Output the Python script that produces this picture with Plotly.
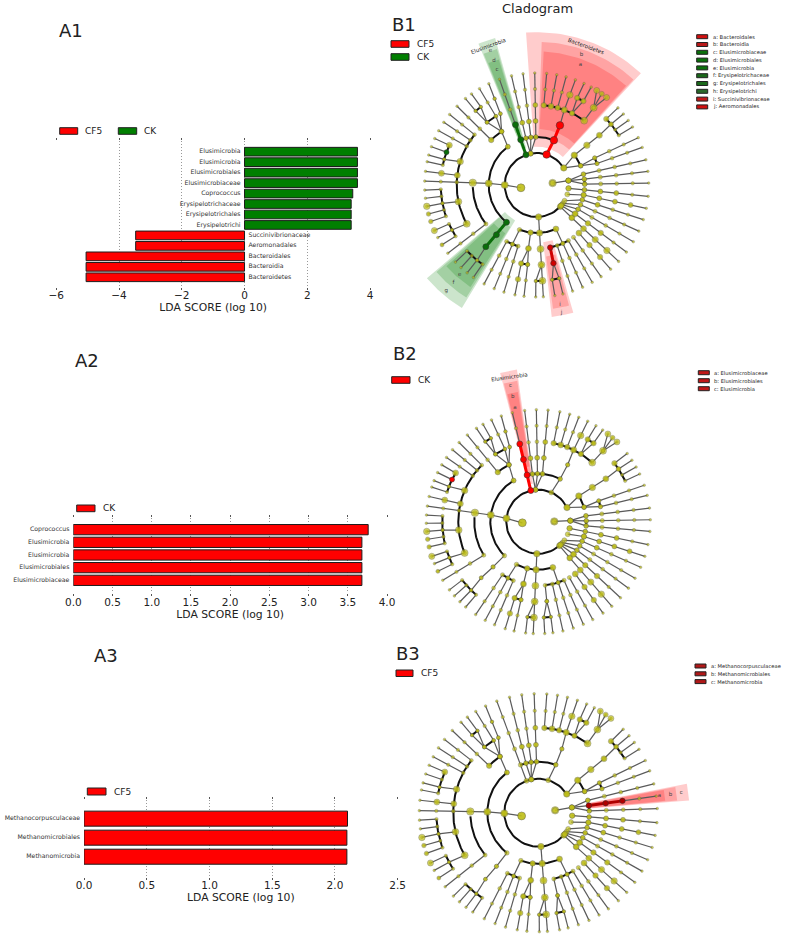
import numpy as np
import plotly.graph_objects as go

W, H = 787, 937
FONT = "DejaVu Sans"
RED, GREEN, OLIVE = "#ff0000", "#007f00", "#bfbf18"

# ---- LDA bar data ----
A1_NAMES = ["Bacteroidetes", "Bacteroidia", "Bacteroidales", "Aeromonadales", "Succinivibrionaceae",
            "Erysipelotrichi", "Erysipelotrichales", "Erysipelotrichaceae", "Coprococcus",
            "Elusimicrobiaceae", "Elusimicrobiales", "Elusimicrobia", "Elusimicrobia"]
A1_VALUES = [-5.05, -5.05, -5.05, -3.47, -3.47, 3.40, 3.40, 3.40, 3.45, 3.60, 3.60, 3.60, 3.60]
A2_NAMES = ["Elusimicrobiaceae", "Elusimicrobiales", "Elusimicrobia", "Elusimicrobia", "Coprococcus"]
A2_VALUES = [3.68, 3.68, 3.68, 3.68, 3.76]
A3_NAMES = ["Methanomicrobia", "Methanomicrobiales", "Methanocorpusculaceae"]
A3_VALUES = [2.095, 2.095, 2.10]

# ---- Cladogram: taxonomy (angle in degrees, ring level) ----
SPOKES = [(-5.8, 3, 7), (-12, 3, 7), (-18, 3, 7), (-24.3, 3, 7), (-30.4, 3, 7), (-36.8, 3, 7), (-43, 3, 7),
          (-48.7, 4, 7), (-54.9, 4, 7), (-60.3, 4, 7), (-65.8, 4, 7), (-71.3, 4, 7),
          (-80.7, 6, 7), (-76.5, 6, 7), (-86.6, 2, 5), (-86.6, 6, 7), (269.5, 6, 7),
          (13, 3, 7), (7, 3, 7), (1, 3, 7), (25, 4, 7), (19.6, 4, 7), (38.4, 3, 5),
          (43.5, 6, 7), (39.3, 6, 7), (35.2, 6, 7), (31.2, 6, 7),
          (84.9, 5, 7), (79.7, 5, 7), (74.8, 5, 7), (69.8, 5, 7), (65, 6, 7), (60.9, 6, 7), (53.6, 5, 6),
          (91, 3, 7), (97, 3, 7), (103, 3, 7), (109.4, 2, 7),
          (135.3, 4, 7), (120.7, 5, 7), (125.6, 6, 7), (129.5, 6, 7),
          (141, 5, 7), (146, 5, 7), (151, 5, 7), (173, 5, 7), (178, 3, 7),
          (155.5, 6, 7), (160, 6, 7), (164.5, 6, 7), (168, 6, 7),
          (212.3, 6, 7), (208, 6, 7), (204, 6, 7), (199, 6, 7), (195, 6, 7), (191, 6, 7), (186.8, 6, 7), (182.6, 6, 7),
          (217.5, 4, 7), (242, 4, 7), (247.7, 4, 7), (253, 4, 7), (258.8, 5, 7), (263.5, 5, 7),
          (223.5, 6, 7), (227.5, 6, 7), (231.6, 6, 7), (235.6, 6, 7)]
FANS = [(190, 1, 180, 2), (7, 1, 7.9, 2), (7.9, 2, 13, 3), (7.9, 2, 7, 3), (7.9, 2, 1, 3),
        (-6, 2, -5.8, 3), (-17, 2, -12, 3), (-29.5, 2, -18, 3), (-35, 2, -24.3, 3), (-38, 2, -30.4, 3),
        (-40, 2, -36.8, 3), (-42.5, 2, -43, 3),
        (-86.6, 5, -90.5, 6), (-86.6, 5, -86.6, 6), (-66.4, 3, -66, 4),
        (-77.8, 4, -77.9, 5), (-77.9, 5, -80.7, 6), (-77.9, 5, -76.5, 6),
        (32.3, 2, 38.4, 3), (32.3, 2, 23.7, 3), (23.7, 3, 25, 4), (23.7, 3, 19.6, 4), (38.4, 5, 39.3, 6),
        (72, 2, 69, 3), (69, 3, 68.7, 4), (68.7, 4, 69.8, 5), (63.8, 5, 65, 6), (63.8, 5, 60.9, 6),
        (53.6, 6, 57.6, 7), (53.6, 6, 54.5, 7), (53.6, 6, 51.4, 7),
        (101, 2, 103, 3), (101, 2, 97, 3), (101, 2, 91, 3),
        (127, 3, 123.3, 4), (123.3, 4, 120.7, 5), (123.3, 4, 117, 5), (123.3, 4, 128.4, 5),
        (128.4, 5, 125.6, 6), (128.4, 5, 129.5, 6), (117, 5, 116, 6), (116, 6, 115.3, 7),
        (163, 5, 164.5, 6), (192, 5, 191, 6), (209, 5, 208, 6),
        (231, 3, 231, 4), (231, 4, 230.5, 5), (230.5, 5, 231.6, 6),
        (249, 3, 247.7, 4), (262.6, 3, 262.6, 4), (262.6, 4, 258.8, 5), (262.6, 4, 263.5, 5),
        (180, 2, 178, 3)]
ARCS = [(2, 32.3, 317.5), (3, 127, 231), (3, 69, 109.4), (3, 249, 293.6), (3, 23.7, 38.4), (3, 1, 7),
        (4, 182, 217.5), (4, -77.8, -60.3), (4, 242, 253), (4, 123.3, 135.3), (4, 19.6, 25),
        (5, 53.6, 84.9), (5, 141, 209), (5, 258.8, 263.5), (5, 120.7, 128.4),
        (6, 31.2, 43.5), (6, 223.5, 235.6), (6, -80.7, -76.5), (6, 269.5, 273.4), (6, 204, 212.3), (6, 182.6, 199),
        (6, 155.5, 168), (6, 125.6, 129.5), (6, 60.9, 65)]
LEVEL_SIZE = {1: 7.5, 2: 5, 3: 4.6, 4: 4.2, 5: 3.8, 6: 3.4, 7: 2.6}

# larger nodes: abundance (angle, level, diameter)
BIG = [(190, 1, 8), (180, 2, 7.2), (178, 3, 7.2), (178, 4, 7.5), (192, 5, 6.8), (209, 5, 7), (163, 5, 6.5), (173, 5, 6),
       (173, 6, 6), (155.5, 6, 6), (191, 7, 6.5), (204, 7, 6.2), (195, 7, 4.5), (199, 7, 4.5), (212.3, 7, 4),
       (-86.6, 2, 6.5), (-86.6, 3, 6.5), (-86.6, 4, 7), (-86.6, 5, 7), (-86.6, 6, 7),
       (262.6, 3, 5.5), (262.6, 4, 6), (258.8, 5, 5.5), (263.5, 5, 4.5), (258.8, 6, 5.5),
       (53.6, 5, 7), (53.6, 6, 7), (57.6, 7, 6), (54.5, 7, 5), (51.4, 7, 6),
       (84.9, 5, 5.5), (79.7, 5, 6), (74.8, 5, 5.5), (69.8, 5, 6.3), (63.8, 5, 5.5), (69.8, 6, 6.5), (65, 6, 5.5),
       (60.9, 6, 5.5), (32.3, 2, 6.5), (38.4, 3, 6.5), (38.4, 4, 6.5), (38.4, 5, 6), (39.3, 6, 5), (43.5, 6, 5.5),
       (-43, 3, 6), (-43, 4, 6), (-43, 5, 6.3), (-43, 6, 6.5), (-36.8, 3, 6), (-36.8, 4, 5.5), (-36.8, 5, 5.5),
       (-48.7, 4, 6), (-48.7, 5, 5.5), (-48.7, 6, 5.5), (-12, 3, 5.5), (-12, 4, 5), (-12, 5, 5), (-12, 6, 5),
       (-18, 4, 5), (-5.8, 4, 5), (-5.8, 5, 5), (-6, 2, 5.5), (7.9, 2, 5.5), (7, 1, 5.5), (-42.5, 2, 6),
       (-40, 2, 5.5), (-66.4, 3, 6), (135.3, 4, 5.5), (123.3, 4, 5), (127, 3, 5), (91, 4, 5), (91, 5, 5),
       (97, 4, 5), (103, 4, 5)]

# ---- Highlights: (taxon wedge) theta range, ring range ----
B1_WEDGE_COLOR = [RED, RED, RED, GREEN, GREEN, GREEN, GREEN, GREEN, GREEN, RED, RED]
B1_WEDGE_T0 = [47, 47.5, 48, 105.8, 106.3, 106.8, 220.3, 221, 222, -83.5, -82.5]
B1_WEDGE_T1 = [94, 88, 87, 112.4, 112, 111.6, 238.7, 238, 237, -74, -75]
B1_WEDGE_R0 = [2.4, 3, 3.5, 2.4, 3, 3.5, 2.6, 3.1, 3.6, 3.6, 4.5]
B1_WEDGE_R1 = [9.55, 8.95, 8.35, 9.55, 8.85, 8.2, 9.0, 8.3, 7.6, 8.3, 7.8]
B2_WEDGE_T0 = [104, 104.5, 105]
B2_WEDGE_T1 = [110.4, 110, 109.6]
B2_WEDGE_R0 = [2.4, 3, 3.5]
B2_WEDGE_R1 = [9.6, 8.9, 8.2]
B3_WEDGE_T0 = [3.6, 4, 4.4]
B3_WEDGE_T1 = [10, 9.6, 9.2]
B3_WEDGE_R0 = [3, 3, 3]
B3_WEDGE_R1 = [8.9, 8.2, 7.5]

B1_HL_T = [[72, 69, 68.7], [109.6, 109.5, 109.4], [231, 231, 230.5], [160], [-77.8, -77.9]]
B1_HL_L = [[2, 3, 4], [2, 3, 4], [3, 4, 5], [6], [4, 5]]
B1_HL_C = [RED, "#0a6e0a", "#0a6e0a", "#0a6e0a", "#d00000"]
B1_HL_S = [7.5, 6, 6, 5, 5.5]
B2_HL_T = [[109.6, 109.5, 109.4, 109.4], [160]]
B2_HL_L = [[2, 3, 4, 5], [6]]
B2_HL_C = [RED, RED]
B2_HL_S = [6, 5]
B3_HL_T = [[7, 7, 7]]
B3_HL_L = [[3, 4, 5]]
B3_HL_C = ["#b00000"]
B3_HL_S = [5.5]

B1_KEY = ["a: Bacteroidales", "b: Bacteroidia", "c: Elusimicrobiaceae", "d: Elusimicrobiales", "e: Elusimicrobia",
          "f: Erysipelotrichaceae", "g: Erysipelotrichales", "h: Erysipelotrichi", "i: Succinivibrionaceae",
          "j: Aeromonadales"]
B1_KEY_C = ["#d01010", "#b81818", "#0a700a", "#0a700a", "#0a700a", "#1a681a", "#1a681a", "#2a682a", "#c01818", "#d01010"]
B2_KEY = ["a: Elusimicrobiaceae", "b: Elusimicrobiales", "c: Elusimicrobia"]
B3_KEY = ["a: Methanocorpusculaceae", "b: Methanomicrobiales", "c: Methanomicrobia"]

fig = go.Figure()
shapes, notes = [], []


def px(x):
    return x / W


def py(y):
    return 1 - y / H


def txt(x, y, s, size, anchor="left", angle=0, color="#222"):
    notes.append(dict(x=px(x), y=py(y), xref="paper", yref="paper", text=s, showarrow=False,
                      xanchor=anchor, yanchor="middle", textangle=angle, borderpad=0,
                      font=dict(family=FONT, size=size, color=color)))


def swatch(x0, x1, y0, y1, color):
    shapes.append(dict(type="rect", xref="paper", yref="paper", x0=px(x0), x1=px(x1),
                       y0=py(y0), y1=py(y1), fillcolor=color, line=dict(color="#222", width=1)))


def bar_panel(idx, names, values, colors, xdom, ydom, xr, yr, barw, dtick, fmt, side_labels):
    xa, ya = f"x{idx}", f"y{idx}"
    ypos = list(range(len(names)))
    fig.add_trace(go.Bar(x=values, y=ypos, orientation="h", width=barw, marker=dict(color=colors,
                         line=dict(color="#1c1c1c", width=1)), xaxis=xa, yaxis=ya, showlegend=False))
    if side_labels:
        pos = ["middle left" if v > 0 else "middle right" for v in values]
    else:
        pos = ["middle left"] * len(values)
    shown = [(n + "\u00a0\u00a0") if p == "middle left" else ("\u00a0\u00a0" + n) for n, p in zip(names, pos)]
    fig.add_trace(go.Scatter(x=[0] * len(names), y=ypos, mode="text", text=shown, textposition=pos,
                             textfont=dict(family=FONT, size=6.2, color="#333"), cliponaxis=False,
                             xaxis=xa, yaxis=ya, showlegend=False))
    suffix = "" if idx == 1 else str(idx)
    fig.update_layout({
        f"xaxis{suffix}": dict(domain=[px(xdom[0]), px(xdom[1])], range=xr, dtick=dtick, tickformat=fmt, anchor=ya,
                               showline=False, showgrid=True, griddash="1px,2px", gridcolor="#999", gridwidth=1,
                               zeroline=False, ticks="outside", ticklen=2, tickcolor="#555", mirror="ticks",
                               ticklabelstandoff=-3,
                               tickfont=dict(family=FONT, size=10.5, color="#222"),
                               title=dict(text="LDA SCORE (log 10)", standoff=0,
                                          font=dict(family=FONT, size=10.8, color="#222"))),
        f"yaxis{suffix}": dict(domain=[py(ydom[1]), py(ydom[0])], range=yr, anchor=xa, visible=False),
    })


bar_panel(1, A1_NAMES, A1_VALUES, [RED if v < 0 else GREEN for v in A1_VALUES], (56.3, 370), (140.7, 286.7),
          [-6, 4], [-0.9, 13.05], 0.83, 2, "d", True)
bar_panel(2, A2_NAMES, A2_VALUES, [RED] * 5, (73.3, 387), (518, 593), [0, 4], [-1, 4.92], 0.81, 0.5, ".1f", False)
bar_panel(3, A3_NAMES, A3_VALUES, [RED] * 3, (84, 397.7), (800, 876.7), [0, 2.5], [-1.05, 2.98], 0.79, 0.5, ".1f", False)


def clado(idx, cx, cy, unit, rot, top, bottom, wedges, hl_t, hl_l, hl_c, hl_s, letters):
    left, right = 380, 787
    xa, ya = f"x{idx}", f"y{idx}"
    fig.update_layout({
        f"xaxis{idx}": dict(domain=[px(left), px(right)], range=[(left - cx) / unit, (right - cx) / unit],
                            visible=False, anchor=ya),
        f"yaxis{idx}": dict(domain=[py(bottom), py(top)], range=[(cy - bottom) / unit, (cy - top) / unit],
                            visible=False, anchor=xa),
    })

    def xy(theta, level):
        a = np.radians(np.asarray(theta, dtype=float) + rot)
        lv = np.asarray(level, dtype=float)
        return (lv * np.cos(a)).tolist(), (lv * np.sin(a)).tolist()

    common = dict(xaxis=xa, yaxis=ya, showlegend=False, hoverinfo="skip")
    # wedges: annular sectors
    for c, t0, t1, r0, r1 in wedges:
        th = np.linspace(t0, t1, 30)
        wx, wy = xy(np.r_[th, th[::-1]], np.r_[[r1] * 30, [r0] * 30])
        rgb = "255,0,0" if c == RED else "0,127,0"
        fig.add_trace(go.Scatter(x=wx, y=wy, mode="lines", fill="toself", fillcolor=f"rgba({rgb},0.2)",
                                 line=dict(width=0), **common))
    # thin grey branches
    lx, ly = [], []
    for t, a, b in SPOKES:
        sx, sy = xy([t, t], [a, b])
        lx += sx + [None]
        ly += sy + [None]
    for t0, l0, t1, l1 in FANS:
        sx, sy = xy([t0, t1], [l0, l1])
        lx += sx + [None]
        ly += sy + [None]
    fig.add_trace(go.Scatter(x=lx, y=ly, mode="lines", line=dict(color="#5a5a5a", width=1.2), **common))
    # thick black arcs
    ax, ay = [], []
    for lv, a, b in ARCS:
        sx, sy = xy(np.linspace(a, b, 60), [lv] * 60)
        ax += sx + [None]
        ay += sy + [None]
    fig.add_trace(go.Scatter(x=ax, y=ay, mode="lines", line=dict(color="#111", width=2), **common))
    # nodes
    nr, nt = [], []
    for t, a, b in SPOKES:
        for lv in range(a, b + 1):
            nr.append(lv)
            nt.append(t)
    for t0, l0, t1, l1 in FANS:
        nr += [l0, l1]
        nt += [t0, t1]
    sizes = [LEVEL_SIZE[v] for v in nr]
    nx, ny = xy(nt, nr)
    fig.add_trace(go.Scatter(x=nx, y=ny, mode="markers", cliponaxis=False,
                             marker=dict(color=OLIVE, size=sizes, line=dict(color="#444", width=0.4)), **common))
    bx, by = xy([b[0] for b in BIG], [b[1] for b in BIG])
    fig.add_trace(go.Scatter(x=bx, y=by, mode="markers", cliponaxis=False,
                             marker=dict(color=OLIVE, size=[b[2] for b in BIG], line=dict(color="#444", width=0.4)),
                             **common))
    # highlighted clades
    for t, l, c, s in zip(hl_t, hl_l, hl_c, hl_s):
        hx, hy = xy(t, l)
        fig.add_trace(go.Scatter(x=hx, y=hy, mode="lines+markers", line=dict(color=c, width=3),
                                 marker=dict(color=c, size=s, line=dict(color="#333", width=0.5)), **common))
    if letters:
        tx, ty = xy([x[0] for x in letters], [x[1] for x in letters])
        fig.add_trace(go.Scatter(x=tx, y=ty, text=[x[2] for x in letters], mode="text",
                                 textfont=dict(family=FONT, size=5.5, color="#444"), **common))


clado(4, 536.7, 185, 16, 0, 15, 330,
      list(zip(B1_WEDGE_COLOR, B1_WEDGE_T0, B1_WEDGE_T1, B1_WEDGE_R0, B1_WEDGE_R1)),
      B1_HL_T, B1_HL_L, B1_HL_C, B1_HL_S,
      [(70, 8.0, "a"), (71, 8.6, "b"), (109, 7.6, "c"), (109, 8.2, "d"), (109, 8.9, "e"),
       (229.5, 7.4, "e"), (229.5, 8.0, "f"), (229.5, 8.7, "g"), (-79, 7.6, "i"), (-79, 8.1, "j")])
clado(5, 538.3, 521.7, 16, -6, 360, 640,
      [(RED, a, b, c, d) for a, b, c, d in zip(B2_WEDGE_T0, B2_WEDGE_T1, B2_WEDGE_R0, B2_WEDGE_R1)],
      B2_HL_T, B2_HL_L, B2_HL_C, B2_HL_S,
      [(107.5, 7.3, "a"), (107.5, 8.0, "b"), (107.5, 8.7, "c")])
clado(6, 538.3, 812.7, 17, 1, 680, 937,
      [(RED, a, b, c, d) for a, b, c, d in zip(B3_WEDGE_T0, B3_WEDGE_T1, B3_WEDGE_R0, B3_WEDGE_R1)],
      B3_HL_T, B3_HL_L, B3_HL_C, B3_HL_S,
      [(7, 7.2, "a"), (7, 7.85, "b"), (7, 8.5, "c")])

# panel letters and title
for x, y, s in [(58, 31, "A1"), (74, 360, "A2"), (93, 655, "A3"), (391, 25, "B1"), (392, 353, "B2"), (395, 653, "B3")]:
    txt(x, y, s, 18)
txt(537, 8, "Cladogram", 13, "center")

# group legends
swatch(59.7, 77.7, 127.7, 134.3, RED); txt(84, 131, "CF5", 9)
swatch(118.3, 136.7, 127.7, 134.3, GREEN); txt(143, 131, "CK", 9)
swatch(76.7, 95, 505, 511.7, RED); txt(102, 508.5, "CK", 9)
swatch(87.3, 106, 788, 795, RED); txt(113, 791.5, "CF5", 9)
swatch(391, 409, 40.7, 47.3, RED); txt(416, 44, "CF5", 9)
swatch(391, 409, 53.7, 60.3, GREEN); txt(416, 57, "CK", 9)
swatch(391.7, 410, 376.7, 383.3, RED); txt(417, 380, "CK", 9)
swatch(396, 413, 670, 676.5, RED); txt(420, 673, "CF5", 9)

# clade keys
for i, (s, c) in enumerate(zip(B1_KEY, B1_KEY_C)):
    y = 36.7 + i * 7.8
    swatch(696.7, 707.7, y - 2, y + 2, c); txt(712, y, s, 5.2)
for i, s in enumerate(B2_KEY):
    y = 372.7 + i * 8
    swatch(698.3, 709.3, y - 2, y + 2, "#c01818"); txt(713, y, s, 5.2)
for i, s in enumerate(B3_KEY):
    y = 666 + i * 7.8
    swatch(695, 706, y - 2, y + 2, "#b01818"); txt(710, y, s, 5.2)

# curved clade names
txt(585.7, 46, "Bacteroidetes", 5.5, "center", 20)
txt(488.3, 46, "Elusimicrobia", 5.5, "center", -20)
txt(509, 376.7, "Elusimicrobia", 5.5, "center", -8)

fig.update_layout(width=W, height=H, margin=dict(l=0, r=0, t=0, b=0, autoexpand=False), paper_bgcolor="white",
                  plot_bgcolor="rgba(0,0,0,0)", shapes=shapes, annotations=notes, barmode="overlay", showlegend=False)
fig.write_html("out.html", config=dict(displayModeBar=False), post_script="document.body.style.margin='0';")
